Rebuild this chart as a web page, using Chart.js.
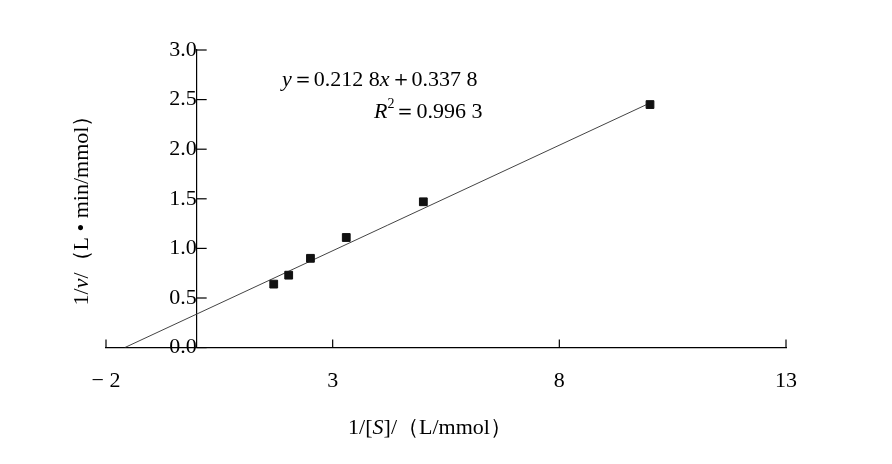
<!DOCTYPE html>
<html>
<head>
<meta charset="utf-8">
<script src="https://cdn.jsdelivr.net/npm/chart.js@4/dist/chart.umd.min.js"></script>
<style>
  html, body { margin: 0; padding: 0; background: #fff; }
  #wrap { width: 892px; height: 464px; }
</style>
</head>
<body>
<div id="wrap"><canvas id="lbChart"></canvas></div>
<script>
// measured points, 1/[S] vs 1/v
const invS = [1.70, 2.03, 2.51, 3.30, 5.00, 10.00];
const invV = [0.64, 0.73, 0.90, 1.11, 1.47, 2.45];
// fitted line y = 0.2128x + 0.3378, end points
const fitX = [-1.587, 10.0];
const fitY = [0.0, 2.466];
const xTicks = [-2, 3, 8, 13];
const yTicks = [0, 0.5, 1.0, 1.5, 2.0, 2.5, 3.0];

const serif = '"Liberation Serif", "DejaVu Serif", serif';

// draw inward tick marks, titles and the equation
const extras = {
    id: 'extras',
    afterDraw(chart) {
        const c = chart.ctx;
        const xs = chart.scales.x, ys = chart.scales.y;
        const x0 = xs.getPixelForValue(0);
        const y0 = ys.getPixelForValue(0);
        c.save();
        c.strokeStyle = '#000';
        c.lineWidth = 1.2;
        yTicks.forEach(v => {
            const p = ys.getPixelForValue(v);
            c.beginPath(); c.moveTo(x0, p); c.lineTo(x0 + 10, p); c.stroke();
        });
        xTicks.forEach(v => {
            const p = xs.getPixelForValue(v);
            c.beginPath(); c.moveTo(p, y0); c.lineTo(p, y0 - 8); c.stroke();
        });

        function runs(parts, x, y, align) {
            let w = 0;
            parts.forEach(p => { c.font = p[2] ? '14px ' + serif : p[1]; w += c.measureText(p[0]).width; });
            let cx = align === 'center' ? x - w / 2 : x;
            c.textBaseline = 'middle';
            c.textAlign = 'left';
            parts.forEach(p => {
                if (p[2]) {
                    c.font = '14px ' + serif;
                    c.fillText(p[0], cx, y + p[2]);
                } else {
                    c.font = p[1];
                    c.fillText(p[0], cx, y);
                }
                cx += c.measureText(p[0]).width;
            });
        }
        const n = '22px ' + serif, it = 'italic 22px ' + serif;
        c.fillStyle = '#000';
        runs([['1/[', n], ['S', it], [']/（L/mmol）', n]], 430, 428, 'center');
        runs([['y', it], ['＝0.212 8', n], ['x', it], ['＋0.337 8', n]], 282, 80, 'left');
        runs([['R', it], ['2', n, -8], ['＝0.996 3', n]], 374, 112, 'left');

        c.translate(82, 205);
        c.rotate(-Math.PI / 2);
        runs([['1/', n], ['v', it], ['/（L • min/mmol）', n]], 0, 0, 'center');
        c.restore();
    }
};

new Chart(document.getElementById('lbChart'), {
    type: 'scatter',
    data: {
        datasets: [{
            data: invS.map((x, i) => ({ x: x, y: invV[i] })),
            pointStyle: 'rect',
            pointRadius: 5.5,
            backgroundColor: '#111',
            borderColor: '#111'
        }, {
            type: 'line',
            data: fitX.map((x, i) => ({ x: x, y: fitY[i] })),
            borderColor: '#444',
            borderWidth: 1,
            pointRadius: 0
        }]
    },
    options: {
        responsive: true,
        maintainAspectRatio: false,
        animation: false,
        layout: { padding: { left: 106, right: 106, top: 50, bottom: 58 } },
        plugins: { legend: { display: false }, tooltip: { enabled: false } },
        scales: {
            x: {
                type: 'linear', min: -2, max: 13,
                afterBuildTicks: s => { s.ticks = xTicks.map(v => ({ value: v })); },
                grid: { display: false },
                border: { color: '#000', width: 1.2 },
                ticks: {
                    color: '#000', font: { family: serif, size: 22 }, padding: 12,
                    callback: v => v < 0 ? '− ' + Math.abs(v) : String(v)
                }
            },
            y: {
                type: 'linear', min: 0, max: 3, position: { x: 0 },
                afterBuildTicks: s => { s.ticks = yTicks.map(v => ({ value: v })); },
                grid: { display: false },
                border: { color: '#000', width: 1.2 },
                ticks: {
                    color: '#000', font: { family: serif, size: 22 }, padding: 10,
                    callback: v => v.toFixed(1)
                }
            }
        }
    },
    plugins: [extras]
});
</script>
</body>
</html>
